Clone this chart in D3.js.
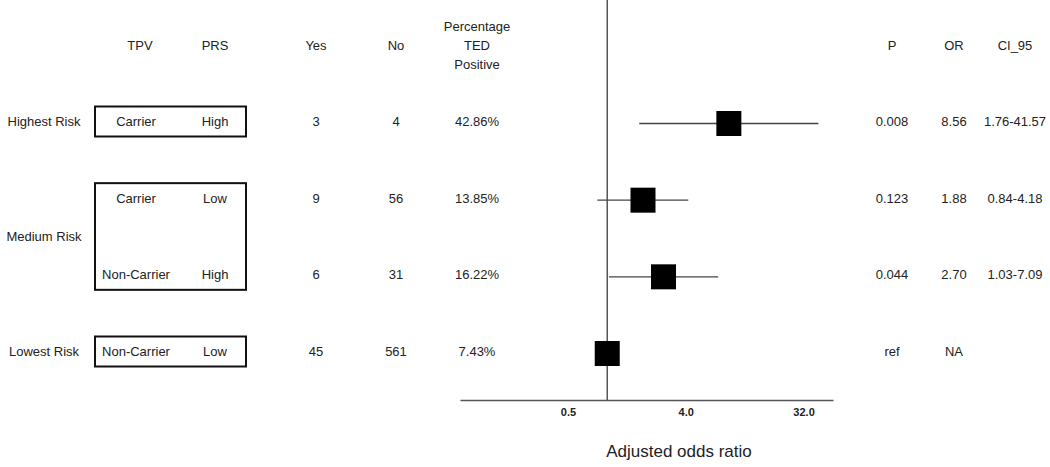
<!DOCTYPE html>
<html>
<head>
<meta charset="utf-8">
<script src="https://cdn.jsdelivr.net/npm/d3@7"></script>
<style>
  body { margin: 0; background: #fff; }
  text { font-family: "Liberation Sans", Arial, sans-serif; fill: #222; }
</style>
</head>
<body>
<script>
const largura = 1050;
const altura = 467;

// dados
const tpv = ["Carrier", "Carrier", "Non-Carrier", "Non-Carrier"];
const prs = ["High", "Low", "High", "Low"];
const yes = [3, 9, 6, 45];
const no = [4, 56, 31, 561];
const pct = ["42.86%", "13.85%", "16.22%", "7.43%"];
const pVals = ["0.008", "0.123", "0.044", "ref"];
const oddsRatio = [8.56, 1.88, 2.70, 1];
const orLabel = ["8.56", "1.88", "2.70", "NA"];
const ciLow = [1.76, 0.84, 1.03, null];
const ciHigh = [41.57, 4.18, 7.09, null];
const ciLabel = ["1.76-41.57", "0.84-4.18", "1.03-7.09", ""];
const grupos = [
  { label: "Highest Risk", linhas: [0] },
  { label: "Medium Risk", linhas: [1, 2] },
  { label: "Lowest Risk", linhas: [3] }
];
const ticks = [0.5, 4, 32];

const svg = d3.select("body").append("svg")
  .attr("width", largura)
  .attr("height", altura);

const y = d3.scalePoint().domain([0, 1, 2, 3]).range([122.5, 352.5]);
const x = d3.scaleLog().base(2)
  .domain([Math.pow(2, -3.75), Math.pow(2, 5.75)])
  .range([460, 833]);

const eixoY = 400;
const fonte = 13;

// cabecalhos
const cab = [
  { t: ["TPV"], x: 140 }, { t: ["PRS"], x: 215 },
  { t: ["Yes"], x: 316 }, { t: ["No"], x: 396 },
  { t: ["Percentage", "TED", "Positive"], x: 477 },
  { t: ["P"], x: 892 }, { t: ["OR"], x: 954 }, { t: ["CI_95"], x: 1015 }
];
cab.forEach(c => {
  const y0 = c.t.length === 1 ? 47 : 28;
  c.t.forEach((s, i) => {
    svg.append("text")
      .attr("x", c.x).attr("y", y0 + i * 19)
      .attr("text-anchor", "middle").attr("dominant-baseline", "middle")
      .attr("font-size", fonte).text(s);
  });
});

function texto(xp, yp, s, anchor) {
  svg.append("text")
    .attr("x", xp).attr("y", yp)
    .attr("text-anchor", anchor || "middle")
    .attr("dominant-baseline", "middle")
    .attr("font-size", fonte)
    .text(s);
}

// grupos de risco + caixas
grupos.forEach(g => {
  const yIni = y(g.linhas[0]);
  const yFim = y(g.linhas[g.linhas.length - 1]);
  texto(44, (yIni + yFim) / 2, g.label);
  svg.append("rect")
    .attr("x", 95).attr("y", yIni - 16)
    .attr("width", 151).attr("height", yFim - yIni + 30)
    .attr("fill", "none").attr("stroke", "#111").attr("stroke-width", 2);
});

// colunas
d3.range(4).forEach(i => {
  const yy = y(i);
  texto(136, yy, tpv[i]);
  texto(215, yy, prs[i]);
  texto(316, yy, yes[i]);
  texto(396, yy, no[i]);
  texto(477, yy, pct[i]);
  texto(892, yy, pVals[i]);
  texto(954, yy, orLabel[i]);
  texto(1015, yy, ciLabel[i]);
});

// eixo
const eixo = svg.append("g")
  .attr("transform", `translate(0,${eixoY})`)
  .call(d3.axisBottom(x).tickValues(ticks).tickSize(0).tickSizeOuter(0).tickPadding(8)
    .tickFormat(d3.format(".1f")));
eixo.select(".domain").attr("stroke", "#555").attr("stroke-width", 1.5);
eixo.selectAll("text")
  .attr("font-size", 11).attr("font-weight", "bold")
  .style("font-family", "'Liberation Sans', Arial, sans-serif").attr("fill", "#222");

// linha de referencia
svg.append("line")
  .attr("x1", x(1)).attr("x2", x(1))
  .attr("y1", 0).attr("y2", eixoY)
  .attr("stroke", "#555").attr("stroke-width", 1.5);

// IC
d3.range(4).filter(i => ciLow[i] !== null).forEach(i => {
  svg.append("line")
    .attr("x1", x(ciLow[i])).attr("x2", x(ciHigh[i]))
    .attr("y1", y(i) + 1).attr("y2", y(i) + 1)
    .attr("stroke", "#444").attr("stroke-width", 1.3);
});

// quadrados
const lado = 25;
d3.range(4).forEach(i => {
  svg.append("rect")
    .attr("x", x(oddsRatio[i]) - lado / 2)
    .attr("y", y(i) + 1 - lado / 2)
    .attr("width", lado).attr("height", lado)
    .attr("fill", "#000");
});

svg.append("text")
  .attr("x", 679).attr("y", 453)
  .attr("text-anchor", "middle").attr("dominant-baseline", "middle")
  .attr("font-size", 17).text("Adjusted odds ratio");
</script>
</body>
</html>
